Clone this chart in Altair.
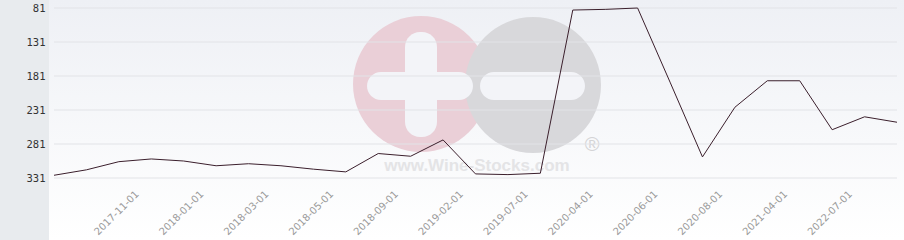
import altair as alt
import pandas as pd

dates = [
    "2017-09-01", "2017-10-01", "2017-11-01", "2017-12-01", "2018-01-01",
    "2018-02-01", "2018-03-01", "2018-04-01", "2018-05-01", "2018-07-01",
    "2018-09-01", "2018-12-01", "2019-02-01", "2019-04-01", "2019-07-01",
    "2019-10-01", "2020-04-01", "2020-05-01", "2020-06-01", "2020-07-01",
    "2020-08-01", "2020-12-01", "2021-04-01", "2021-10-01", "2022-07-01",
    "2023-01-01", "2023-07-01",
]
ranks = [
    327, 319, 307, 303, 306, 313, 310, 313, 318, 322,
    295, 299, 275, 325, 326, 324, 84, 83, 81, 190,
    300, 227, 188, 188, 260, 241, 249,
]
shown_labels = [
    "2017-11-01", "2018-01-01", "2018-03-01", "2018-05-01", "2018-09-01",
    "2019-02-01", "2019-07-01", "2020-04-01", "2020-06-01", "2020-08-01",
    "2021-04-01", "2022-07-01",
]
y_ticks = [81, 131, 181, 231, 281, 331]

W, H = 843, 170

df = pd.DataFrame({"date": dates, "rank": ranks})
ticks_df = pd.DataFrame({"tick": y_ticks})
one = alt.Data(values=[{"a": 1}])

yscale = alt.Scale(domain=[81, 331], reverse=True, nice=False, zero=False)
yaxis = alt.Axis(
    values=y_ticks, title=None, ticks=False, domain=False, grid=False,
    labelFont="DejaVu Sans Mono", labelFontSize=10.5, labelColor="#333333",
    labelPadding=9, labelBaseline="middle", zindex=1,
)

bg = alt.Chart(one).mark_rect(
    color=alt.Gradient(
        gradient="linear",
        stops=[alt.GradientStop(color="#eef0f5", offset=0),
               alt.GradientStop(color="#ffffff", offset=1)],
        x1=0, x2=0, y1=0, y2=1,
    )
).encode(x=alt.value(-5), x2=alt.value(W + 7), y=alt.value(-8), y2=alt.value(H + 62))

panel = alt.Chart(one).mark_rect(color="#e8ebee").encode(
    x=alt.value(-54), x2=alt.value(-5), y=alt.value(-8), y2=alt.value(H + 62)
)

circle_size = 136 * 136
pink = alt.Chart(one).mark_circle(color="#eacfd7", opacity=1, size=circle_size).encode(
    x=alt.value(367), y=alt.value(76)
)
gray = alt.Chart(one).mark_circle(color="#d8d8db", opacity=1, size=circle_size).encode(
    x=alt.value(479), y=alt.value(77)
)
bar_col = "#f3f4f8"
plus_v = alt.Chart(one).mark_rect(color=bar_col, cornerRadius=15).encode(
    x=alt.value(351), x2=alt.value(383), y=alt.value(24), y2=alt.value(129)
)
plus_h = alt.Chart(one).mark_rect(color=bar_col, cornerRadius=14).encode(
    x=alt.value(313), x2=alt.value(419), y=alt.value(64), y2=alt.value(92)
)
minus = alt.Chart(one).mark_rect(color=bar_col, cornerRadius=14).encode(
    x=alt.value(426), x2=alt.value(531), y=alt.value(64), y2=alt.value(92)
)
wm_text = alt.Chart(one).mark_text(
    text="www.Wine-Stocks.com", font="Liberation Sans", fontWeight="bold",
    fontSize=17, color="#e4e4e6", align="center", baseline="alphabetic",
).encode(x=alt.value(423), y=alt.value(163))
wm_reg = alt.Chart(one).mark_text(
    text="®", font="Liberation Sans", fontSize=20, color="#d4d4d6",
    align="center", baseline="middle",
).encode(x=alt.value(538), y=alt.value(137))

grid = alt.Chart(ticks_df).mark_rule(color="#e2e3e7", strokeWidth=1).encode(
    y=alt.Y("tick:Q", scale=yscale, axis=yaxis),
    x=alt.value(0), x2=alt.value(W),
)

line = alt.Chart(df).mark_line(color="#3b1f2c", strokeWidth=1).encode(
    x=alt.X(
        "date:O", sort=dates,
        scale=alt.Scale(type="point", padding=0),
        axis=alt.Axis(
            values=shown_labels, title=None, labelAngle=-45, labelAlign="right",
            labelBaseline="middle", labelOffset=18, labelPadding=14,
            labelFont="DejaVu Sans", labelFontSize=10, labelColor="#9a9a9a",
            ticks=False, domain=False, grid=False, labelOverlap=False, zindex=1,
        ),
    ),
    y=alt.Y("rank:Q", scale=yscale, axis=yaxis),
)

chart = alt.layer(
    bg, panel, pink, gray, plus_v, plus_h, minus, wm_text, wm_reg, grid, line
).properties(
    width=W, height=H,
    autosize=alt.AutoSizeParams(type="none"),
    padding={"left": 54, "top": 8, "right": 7, "bottom": 62},
    background="#ffffff",
).configure_view(stroke=None)

chart.save("out.html", embed_options={"renderer": "svg", "actions": False})
